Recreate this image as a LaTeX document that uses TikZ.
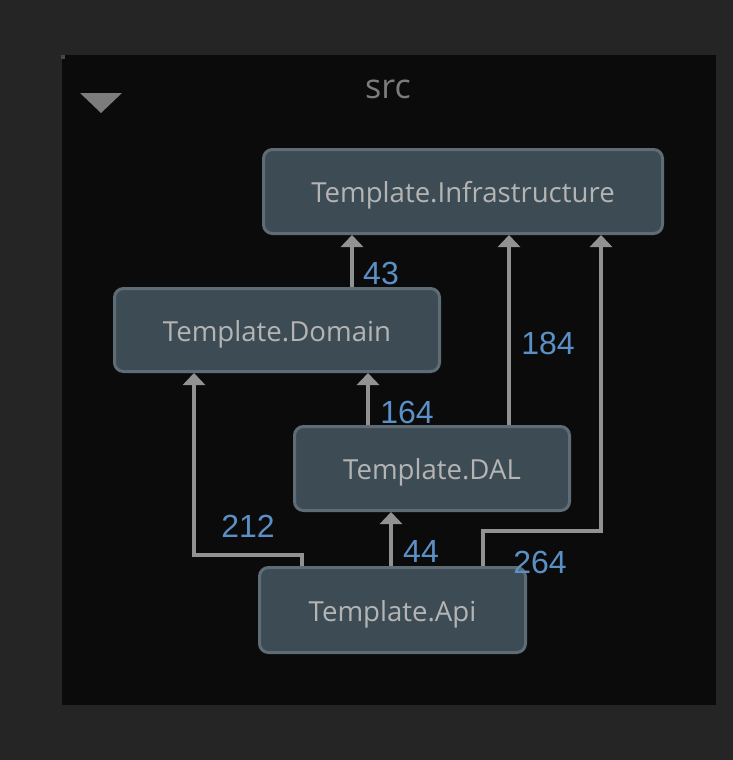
\documentclass[tikz,border=0pt]{standalone}
\usepackage{fontspec}
\setmainfont{Open Sans}
\newfontfamily\labfont{Liberation Sans}
\usetikzlibrary{arrows.meta}
\definecolor{outerbg}{HTML}{252525}
\definecolor{panelbg}{HTML}{0B0B0B}
\definecolor{boxfill}{HTML}{3D4C54}
\definecolor{boxline}{HTML}{5E6D75}
\definecolor{boxtext}{HTML}{B4B4B4}
\definecolor{edgecol}{HTML}{929292}
\definecolor{labcol}{HTML}{5B90C6}
\definecolor{titlecol}{HTML}{7C7C7C}
\begin{document}
\begin{tikzpicture}[x=1pt,y=-1pt,
  box/.style={draw=boxline, fill=boxfill, line width=3pt, rounded corners=9pt,
    text=boxtext, font=\fontsize{27.6}{32}\selectfont, inner sep=0pt,
    text height=22.8pt, text depth=0pt},
  edge/.style={draw=edgecol, line width=4pt, -{Triangle[width=22pt,length=12pt]}},
  lab/.style={text=labcol, font=\labfont\fontsize{32}{36}\selectfont, inner sep=0pt}]
\useasboundingbox (0,0) rectangle (733,760);
\fill[outerbg] (0,0) rectangle (733,760);
\fill[panelbg] (62,55) rectangle (716,705);
\fill[titlecol!140] (61,55) rectangle (65,59);
\fill[titlecol] (80,93) -- (122,93) -- (101,113) -- cycle;
\node[text=titlecol, font=\fontsize{34}{38}\selectfont, inner sep=0pt] (title) at (388,89) {src};

\node[box, minimum width=399pt, minimum height=84pt] (inf) at (463,191.5) {Template.Infrastructure};
\node[box, minimum width=325pt, minimum height=83pt] (dom) at (277,330) {Template.Domain};
\node[box, minimum width=275pt, minimum height=84pt] (dal) at (432,468.5) {Template.DAL};
\node[box, minimum width=266pt, minimum height=85pt] (api) at (392.5,610) {Template.Api};

\draw[edge] ([xshift=75pt]dom.north) -- ([xshift=-111pt]inf.south);
\draw[edge] ([xshift=77pt]dal.north) -- ([xshift=46pt]inf.south);
\draw[edge] ([xshift=90.5pt]api.north) -- ++(0,-35.5) -| ([xshift=138pt]inf.south);
\draw[edge] ([xshift=-64pt]dal.north) -- ([xshift=91pt]dom.south);
\draw[edge] ([xshift=-90.5pt]api.north) -- ++(0,-11.5) -| ([xshift=-83pt]dom.south);
\draw[edge] ([xshift=-1.5pt]api.north) -- ([xshift=-41pt]dal.south);

\node[lab] (l43) at (381,273) {43};
\node[lab] (l184) at (548,343) {184};
\node[lab] (l264) at (540,562) {264};
\node[lab] (l164) at (407,412) {164};
\node[lab] (l212) at (248,526) {212};
\node[lab] (l44) at (421,551) {44};
\end{tikzpicture}
\end{document}
